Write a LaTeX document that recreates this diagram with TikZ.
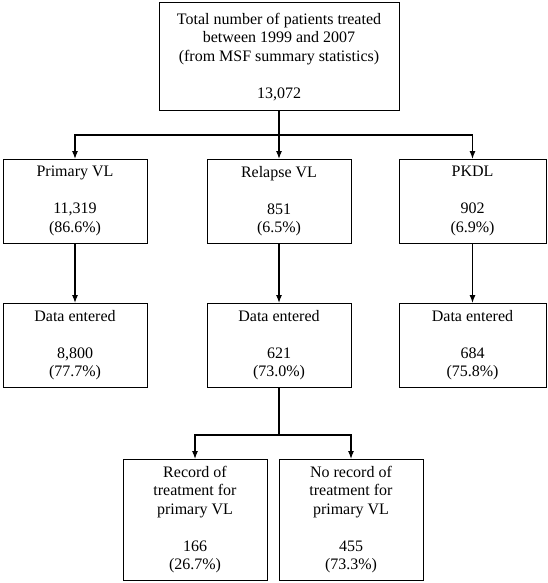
\documentclass[tikz,border=0pt]{standalone}
\usepackage{fontspec}
\setmainfont{Liberation Serif}
\usetikzlibrary{positioning}
\usetikzlibrary{arrows.meta}

\begin{document}
\begin{tikzpicture}[x=1pt,y=1pt,
    box/.style={draw, line width=1pt, align=center,
        minimum width=144pt, minimum height=84pt, inner sep=0pt, outer sep=0pt,
        font=\fontsize{16}{18.5}\selectfont},
    flow/.style={line width=1.1pt, -{Latex[length=8pt,width=6pt]}}]
\useasboundingbox (0,0) rectangle (547,-583);

% Total
\node[box, minimum width=240pt, minimum height=108pt] (total) at (279,-57)
    {Total number of patients treated\\between 1999 and 2007\\(from MSF summary statistics)\\[\baselineskip]13,072};

% Patient groups
\node[box, below=48pt of total] (relapse) {Relapse VL\\[\baselineskip]851\\(6.5\%)};
\node[box, left=60pt of relapse] (primary) {Primary VL\\[\baselineskip]11,319\\(86.6\%)};
\node[box, minimum width=147pt, right=48pt of relapse] (pkdl) {PKDL\\[\baselineskip]902\\(6.9\%)};

% Data entered
\node[box, below=60pt of primary] (data1) {Data entered\\[\baselineskip]8,800\\(77.7\%)};
\node[box, below=60pt of relapse] (data2) {Data entered\\[\baselineskip]621\\(73.0\%)};
\node[box, minimum width=147pt, below=60pt of pkdl] (data3) {Data entered\\[\baselineskip]684\\(75.8\%)};

% Records of relapse VL
\node[box, minimum height=121pt, below=72pt of data2.south, anchor=north west] (norec)
    {No record of\\treatment for\\primary VL\\[\baselineskip]455\\(73.3\%)};
\node[box, minimum height=121pt, left=12pt of norec] (rec)
    {Record of\\treatment for\\primary VL\\[\baselineskip]166\\(26.7\%)};

% Arrows
\draw[line width=1.1pt] (total.south) -- ++(0,-24) coordinate (split);
\draw[flow] (split) -| (primary.north);
\draw[flow] (split) -| (pkdl.north);
\draw[flow] (total.south) -- (relapse.north);
\foreach \a/\b in {primary/data1, relapse/data2, pkdl/data3}
    \draw[flow] (\a.south) -- (\b.north);
\draw[line width=1.1pt] (data2.south) -- ++(0,-48) coordinate (fork);
\draw[flow] (fork) -| (rec.north);
\draw[flow] (fork) -| (norec.north);

\end{tikzpicture}
\end{document}
